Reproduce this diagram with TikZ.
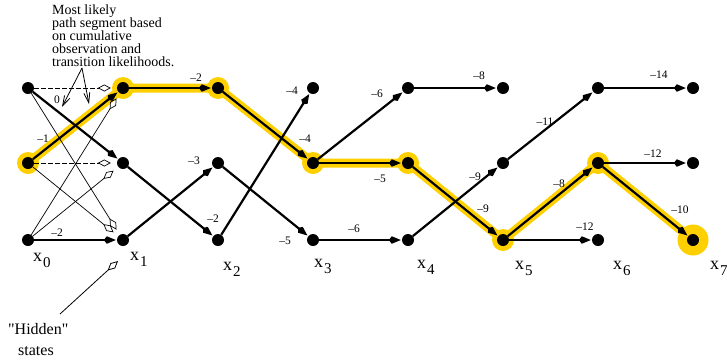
\documentclass[tikz,border=0pt]{standalone}
\usepackage{fontspec}
\setmainfont{Liberation Serif}[Ligatures=TeXOff]
\usetikzlibrary{arrows.meta,backgrounds}
\definecolor{hlyellow}{RGB}{255,208,0}
\begin{document}
\begin{tikzpicture}[x=1pt,y=-1pt,
  st/.style={circle,fill=black,inner sep=0pt,minimum size=12pt},
  bestedge/.style={line width=2.2pt,-{Kite[length=12pt,width=7.5pt,inset=3pt]},shorten >=1pt},
  otheredge/.style={line width=0.7pt,-{Kite[open,length=13pt,width=7pt,inset=6.5pt,line width=0.7pt]},shorten >=6pt},
  lab/.style={font=\fontsize{11.5}{12}\selectfont,inner sep=0pt},
  band/.style={line width=9pt,draw=hlyellow,line join=round},
  xlab/.style={anchor=base west,inner sep=0pt,font=\fontsize{18}{18}\selectfont},
  note/.style={anchor=north west,align=left,inner sep=0pt},
]
\useasboundingbox (0,0) rectangle (727,360);

% states
\node[st] (a0) at (28,88) {};  \node[st] (b0) at (28,163) {};  \node[st] (c0) at (28,240) {};
\node[st] (a1) at (123,88) {}; \node[st] (b1) at (123,163) {}; \node[st] (c1) at (123,240) {};
\node[st] (a2) at (218,88) {}; \node[st] (b2) at (218,163) {}; \node[st] (c2) at (218,240) {};
\node[st] (a3) at (313,88) {}; \node[st] (b3) at (313,163) {}; \node[st] (c3) at (313,240) {};
\node[st] (a4) at (408,88) {}; \node[st] (b4) at (408,163) {}; \node[st] (c4) at (408,240) {};
\node[st] (a5) at (503,88) {}; \node[st] (b5) at (503,163) {}; \node[st] (c5) at (503,240) {};
\node[st] (a6) at (598,88) {}; \node[st] (b6) at (598,163) {}; \node[st] (c6) at (598,240) {};
\node[st] (a7) at (693,88) {}; \node[st] (b7) at (693,163) {}; \node[st] (c7) at (693,240) {};

% highlighted path
\begin{pgfonlayer}{background}
\draw[band] (b0.center) -- (a1.center) -- (a2.center) -- (b3.center) -- (b4.center) -- (c5.center) -- (b6.center) -- (c7.center);
\foreach \n in {b0,a1,a2,b3,b4,c5,b6} \fill[hlyellow] (\n.center) circle (11pt);
\fill[hlyellow] (c7.center) circle (15.5pt);
\end{pgfonlayer}

% other candidate transitions x0 -> x1
\draw[otheredge,dash pattern=on 5pt off 2pt] (a0) -- (a1);
\draw[otheredge,dash pattern=on 5pt off 2pt] (b0) -- (b1);
\draw[otheredge] (a0) -- (c1);
\draw[otheredge] (b0) -- (c1);
\draw[otheredge] (c0) -- (a1);
\draw[otheredge] (c0) -- (b1);

% best transitions
\draw[bestedge] (b0) -- (a1);
\draw[bestedge] (a0) -- (b1);
\draw[bestedge] (c0) -- (c1);
\draw[bestedge] (a1) -- (a2);
\draw[bestedge] (b1) -- (c2);
\draw[bestedge] (c1) -- (b2);
\draw[bestedge] (a2) -- (b3);
\draw[bestedge] (b2) -- (c3);
\draw[bestedge] (c2) -- (a3);
\draw[bestedge] (b3) -- (a4);
\draw[bestedge] (b3) -- (b4);
\draw[bestedge] (c3) -- (c4);
\draw[bestedge] (a4) -- (a5);
\draw[bestedge] (b4) -- (c5);
\draw[bestedge] (c4) -- (b5);
\draw[bestedge] (b5) -- (a6);
\draw[bestedge] (c5) -- (b6);
\draw[bestedge] (c5) -- (c6);
\draw[bestedge] (a6) -- (a7);
\draw[bestedge] (b6) -- (b7);
\draw[bestedge] (b6) -- (c7);

% edge labels
\node[lab] (l1) at (57,100) {0};
\node[lab] (l2) at (43,139) {–1};
\node[lab] (l3) at (57,233) {–2};
\node[lab] (l4) at (196,78) {–2};
\node[lab] (l5) at (194,161) {–3};
\node[lab] (l6) at (213,219) {–2};
\node[lab] (l7) at (292,91) {–4};
\node[lab] (l8) at (305,139) {–4};
\node[lab] (l9) at (285,241) {–5};
\node[lab] (l10) at (354,229) {–6};
\node[lab] (l11) at (377,94) {–6};
\node[lab] (l12) at (380,179) {–5};
\node[lab] (l13) at (479,76) {–8};
\node[lab] (l14) at (475,177) {–9};
\node[lab] (l15) at (483,209) {–9};
\node[lab] (l16) at (545,122) {–11};
\node[lab] (l17) at (559,184) {–8};
\node[lab] (l18) at (585,227) {–12};
\node[lab] (l19) at (659,75) {–14};
\node[lab] (l20) at (653,154) {–12};
\node[lab] (l21) at (680,210) {–10};

% column labels
\node[xlab] (x0) at (33,261) {x\kern1pt\raisebox{-6pt}{\fontsize{15}{15}\selectfont 0}};
\node[xlab] (x1) at (130,260) {x\kern1pt\raisebox{-6pt}{\fontsize{15}{15}\selectfont 1}};
\node[xlab] (x2) at (223,270) {x\kern1pt\raisebox{-6pt}{\fontsize{15}{15}\selectfont 2}};
\node[xlab] (x3) at (314,267) {x\kern1pt\raisebox{-6pt}{\fontsize{15}{15}\selectfont 3}};
\node[xlab] (x4) at (417,268) {x\kern1pt\raisebox{-6pt}{\fontsize{15}{15}\selectfont 4}};
\node[xlab] (x5) at (515,269) {x\kern1pt\raisebox{-6pt}{\fontsize{15}{15}\selectfont 5}};
\node[xlab] (x6) at (613,269) {x\kern1pt\raisebox{-6pt}{\fontsize{15}{15}\selectfont 6}};
\node[xlab] (x7) at (710,269) {x\kern1pt\raisebox{-6pt}{\fontsize{15}{15}\selectfont 7}};

% annotation: most likely path
\node[note,font=\fontsize{14}{13}\selectfont] (mlnote) at (52,4.5)
  {Most likely\\path segment based\\on cumulative\\observation and\\transition likelihoods.};
\coordinate (ns) at (82,68);
\coordinate (nt1) at (62,107);
\coordinate (nt2) at (89,104);
\draw[line width=0.8pt,-{Straight Barb[length=10pt,width=6pt,line width=0.8pt]}] (ns) -- (nt1);
\draw[line width=0.8pt,-{Straight Barb[length=10pt,width=6pt,line width=0.8pt]}] (ns) -- (nt2);

% annotation: hidden states
\node[note,font=\fontsize{16}{21}\selectfont] (hidden) at (8,323)
  {"Hidden"\\\hspace*{10pt}states};
\coordinate (hs) at (60,314);
\coordinate (ht) at (118,261);
\draw[line width=0.8pt,-{Kite[open,length=14pt,width=7pt,inset=7pt,line width=0.8pt]}] (hs) -- (ht);
\end{tikzpicture}
\end{document}
